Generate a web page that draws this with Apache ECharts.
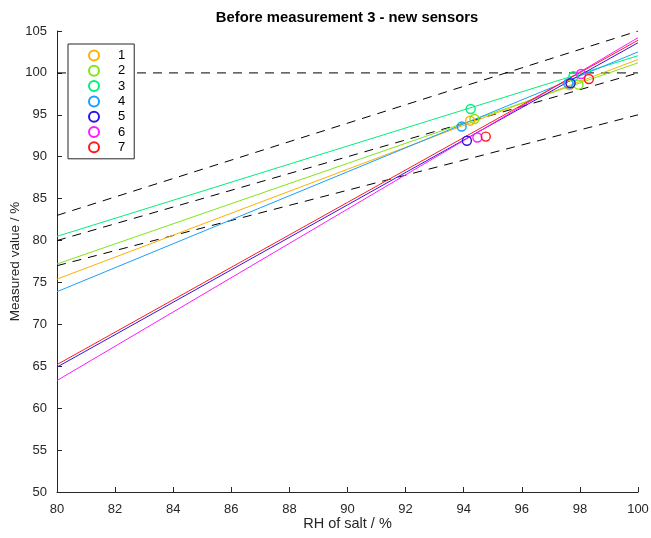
<!DOCTYPE html>
<html>
<head>
<meta charset="utf-8">
<script src="https://cdn.jsdelivr.net/npm/echarts@6/dist/echarts.min.js"></script>
<style>
  html, body { margin: 0; padding: 0; background: #fff; }
  #chart { width: 651px; height: 538px; }
</style>
</head>
<body>
<div id="chart"></div>
<script>
// sensors and their colours
var sensors = ['1', '2', '3', '4', '5', '6', '7'];
var colors = ['#ffb000', '#80e61a', '#00f07a', '#1a9fff', '#2f14e6', '#ff19ff', '#ff1a1a'];

// measured points, salt near 94 % and near 98 %
var rhLow = [94.22, 94.37, 94.24, 93.93, 94.11, 94.47, 94.76];
var measLow = [94.3, 94.5, 95.7, 93.6, 91.9, 92.3, 92.4];
var rhHigh = [97.64, 97.95, 97.78, 97.6, 97.68, 98.04, 98.31];
var measHigh = [98.55, 98.6, 99.6, 98.75, 98.76, 99.87, 99.27];

// fitted lines, value at RH 80 and RH 100
var fitX = [80, 100];
var fitAt80 = [75.4, 77.2, 80.5, 73.9, 64.9, 63.3, 65.2];
var fitAt100 = [101.6, 101.2, 102.05, 102.5, 103.6, 104.2, 103.9];

// dashed reference lines
var refX = [80, 100];
var refUpper = [83, 105];
var refIdeal = [80, 100];
var refLower = [77, 95];
var refLevel = [100, 100];

var xTicks = { min: 80, max: 100, interval: 2 };
var yTicks = { min: 50, max: 105, interval: 5 };

var axisCol = '#262626';
var font = 'Liberation Sans';

var chartDom = document.getElementById('chart');
var myChart = echarts.init(chartDom);

function pairs(xs, ys) {
    var out = [];
    for (var i = 0; i < xs.length; i++) out.push([xs[i], ys[i]]);
    return out;
}

var series = [];

// reference lines
var refs = [refUpper, refIdeal, refLower, refLevel];
for (var r = 0; r < refs.length; r++) {
    series.push({
        name: 'ref' + r,
        type: 'line',
        data: pairs(refX, refs[r]),
        showSymbol: false,
        silent: true,
        lineStyle: { color: '#000', width: 1, type: [9, 7] },
        z: 1
    });
}

for (var i = 0; i < sensors.length; i++) {
    series.push({
        name: sensors[i],
        type: 'scatter',
        symbol: 'circle',
        symbolSize: 9,
        data: [[rhLow[i], measLow[i]], [rhHigh[i], measHigh[i]]],
        itemStyle: { color: 'rgba(255,255,255,0)', borderColor: colors[i], borderWidth: 1.4, opacity: 1 },
        z: 3
    });
    series.push({
        name: 'fit' + sensors[i],
        type: 'line',
        data: [[fitX[0], fitAt80[i]], [fitX[1], fitAt100[i]]],
        showSymbol: false,
        silent: true,
        lineStyle: { color: colors[i], width: 1 },
        z: 2
    });
}

var option = {
    animation: false,
    backgroundColor: '#fff',
    title: {
        text: 'Before measurement 3 - new sensors',
        left: 342,
        top: 5,
        textAlign: 'center',
        textStyle: { fontFamily: font, fontSize: 14.8, fontWeight: 'bold', color: '#000' }
    },
    legend: {
        data: sensors,
        orient: 'vertical',
        left: 68,
        top: 44,
        width: 66,
        padding: [5, 9, 5, 20],
        itemWidth: 10,
        itemHeight: 10,
        itemGap: 2.3,
        icon: 'circle',
        borderColor: axisCol,
        borderWidth: 1,
        backgroundColor: '#fff',
        textStyle: { fontFamily: font, fontSize: 13, color: '#000', padding: [0, 0, 0, 14] }
    },
    grid: { left: 57, right: 13, top: 31, bottom: 46, outerBoundsMode: 'none', containLabel: false },
    xAxis: {
        type: 'value',
        min: xTicks.min,
        max: xTicks.max,
        interval: xTicks.interval,
        name: 'RH of salt / %',
        nameLocation: 'middle',
        nameGap: 24,
        nameMoveOverlap: false,
        nameTextStyle: { fontFamily: font, fontSize: 14.5, color: axisCol },
        axisLine: { lineStyle: { color: axisCol, width: 1 } },
        axisTick: { inside: true, length: 5, lineStyle: { color: axisCol } },
        axisLabel: { fontFamily: font, fontSize: 13, color: axisCol, margin: 11 },
        splitLine: { show: false }
    },
    yAxis: {
        type: 'value',
        min: yTicks.min,
        max: yTicks.max,
        interval: yTicks.interval,
        name: 'Measured value / %',
        nameLocation: 'middle',
        nameGap: 35,
        nameMoveOverlap: false,
        nameTextStyle: { fontFamily: font, fontSize: 13.5, color: axisCol },
        axisLine: { show: true, lineStyle: { color: axisCol, width: 1 } },
        axisTick: { show: true, inside: true, length: 5, lineStyle: { color: axisCol } },
        axisLabel: { fontFamily: font, fontSize: 13, color: axisCol, margin: 10 },
        splitLine: { show: false }
    },
    series: series
};

option && myChart.setOption(option);
</script>
</body>
</html>
